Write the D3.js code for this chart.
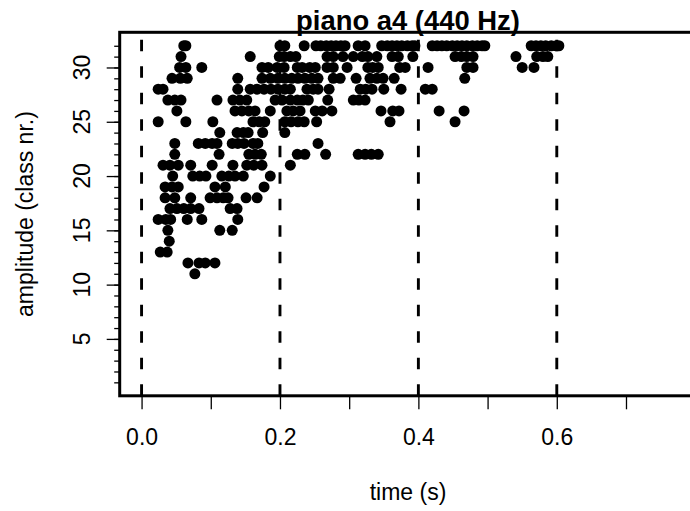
<!DOCTYPE html>
<html>
<head>
<meta charset="utf-8">
<script src="https://cdn.jsdelivr.net/npm/d3@7"></script>
<style>
body { margin: 0; background: #fff; }
svg { display: block; font-family: "Liberation Sans", Arial, sans-serif; }
</style>
</head>
<body>
<div id="chart"></div>
<script>
// amplitude classes (rows) and the times (s) at which each class shows up
const ampClass = [32, 31, 30, 29, 28, 27, 26, 25, 24, 23, 22, 21, 20, 19, 18, 17, 16, 15, 14, 13, 12, 11];
const timesByClass = [
  [0.061, 0.064, 0.200, 0.207, 0.235, 0.252, 0.259, 0.267, 0.274, 0.281, 0.288, 0.294, 0.313, 0.323, 0.347, 0.355, 0.362, 0.369, 0.376, 0.384, 0.391, 0.395, 0.420, 0.427, 0.434, 0.441, 0.449, 0.456, 0.463, 0.470, 0.478, 0.485, 0.492, 0.496, 0.563, 0.570, 0.577, 0.584, 0.592, 0.599, 0.603],
  [0.057, 0.157, 0.199, 0.206, 0.215, 0.223, 0.268, 0.277, 0.291, 0.306, 0.319, 0.327, 0.340, 0.362, 0.371, 0.392, 0.453, 0.462, 0.470, 0.479, 0.541, 0.571, 0.580, 0.587],
  [0.055, 0.064, 0.087, 0.174, 0.183, 0.196, 0.206, 0.225, 0.232, 0.243, 0.251, 0.268, 0.277, 0.297, 0.327, 0.334, 0.342, 0.373, 0.381, 0.414, 0.470, 0.479, 0.550, 0.567],
  [0.044, 0.056, 0.066, 0.139, 0.174, 0.186, 0.197, 0.207, 0.217, 0.226, 0.236, 0.246, 0.255, 0.277, 0.287, 0.310, 0.330, 0.340, 0.349, 0.365, 0.467],
  [0.024, 0.031, 0.139, 0.157, 0.167, 0.177, 0.187, 0.197, 0.207, 0.215, 0.239, 0.248, 0.255, 0.271, 0.316, 0.324, 0.333, 0.350, 0.375, 0.410, 0.420],
  [0.038, 0.048, 0.057, 0.109, 0.132, 0.142, 0.152, 0.193, 0.203, 0.215, 0.225, 0.233, 0.241, 0.269, 0.306, 0.314, 0.323],
  [0.051, 0.135, 0.145, 0.155, 0.164, 0.186, 0.210, 0.219, 0.229, 0.251, 0.261, 0.275, 0.346, 0.363, 0.372, 0.430, 0.466],
  [0.024, 0.064, 0.103, 0.161, 0.170, 0.178, 0.207, 0.216, 0.226, 0.235, 0.253, 0.359, 0.453],
  [0.113, 0.138, 0.147, 0.154, 0.175, 0.207],
  [0.048, 0.082, 0.092, 0.102, 0.109, 0.131, 0.139, 0.148, 0.161, 0.168, 0.255],
  [0.048, 0.112, 0.155, 0.164, 0.173, 0.225, 0.236, 0.266, 0.313, 0.323, 0.332, 0.342],
  [0.031, 0.041, 0.053, 0.071, 0.102, 0.132, 0.152, 0.162, 0.174, 0.215],
  [0.045, 0.074, 0.084, 0.093, 0.116, 0.126, 0.135, 0.147, 0.186],
  [0.034, 0.044, 0.053, 0.106, 0.121, 0.177],
  [0.034, 0.048, 0.071, 0.099, 0.109, 0.118, 0.125, 0.151, 0.167],
  [0.041, 0.051, 0.061, 0.071, 0.083, 0.128, 0.138],
  [0.024, 0.035, 0.042, 0.066, 0.087, 0.139],
  [0.038, 0.113, 0.131],
  [0.040],
  [0.027, 0.037],
  [0.067, 0.083, 0.092, 0.106],
  [0.077]
];

// vertical dashed markers
const markTimes = [0, 0.2, 0.4, 0.6];

// axis ticks
const xTicks = [0, 0.1, 0.2, 0.3, 0.4, 0.5, 0.6, 0.7];
const xLabelTicks = [0, 0.2, 0.4, 0.6];
const yMinorTicks = d3.range(1, 33);
const yMajorTicks = [5, 10, 15, 20, 25, 30];

const W = 690, H = 511;
const plot = { left: 119.7, right: 696.3, top: 32.3, bottom: 395.8 };

const svg = d3.select("#chart").append("svg")
    .attr("width", W)
    .attr("height", H);

const x = d3.scaleLinear()
    .domain([-0.0316, 0.8016])
    .range([plot.left, plot.right]);

const y = d3.scaleLinear()
    .domain([-0.24, 33.24])
    .range([plot.bottom, plot.top]);

// flatten rows into points
const points = [];
ampClass.forEach((a, i) => {
    timesByClass[i].forEach(t => points.push({ t: t, a: a }));
});

svg.append("g")
    .selectAll("circle")
    .data(points)
    .join("circle")
    .attr("cx", d => x(d.t))
    .attr("cy", d => y(d.a))
    .attr("r", 5.5)
    .attr("fill", "#000");

// dashed lines, dash pattern starts from the bottom
svg.append("g")
    .selectAll("line")
    .data(markTimes)
    .join("line")
    .attr("x1", d => x(d))
    .attr("x2", d => x(d))
    .attr("y1", plot.bottom)
    .attr("y2", plot.top)
    .attr("stroke", "#000")
    .attr("stroke-width", 2.9)
    .attr("stroke-dasharray", "11.5,15");

// x axis
const xAxis = svg.append("g")
    .attr("transform", `translate(0,${plot.bottom})`)
    .call(d3.axisBottom(x)
        .tickValues(xTicks)
        .tickSize(13.5)
        .tickFormat(d => xLabelTicks.includes(d) ? d3.format(".1f")(d) : ""));
xAxis.select(".domain").remove();
xAxis.selectAll(".tick line").attr("stroke-width", 1.3);
xAxis.selectAll(".tick text")
    .attr("y", 49.7)
    .attr("dy", null)
    .attr("font-size", 23)
    .attr("font-family", null)
    .attr("fill", "#000");

// y axis: minor and major ticks
const yMinor = svg.append("g")
    .attr("transform", `translate(${plot.left},0)`)
    .call(d3.axisLeft(y).tickValues(yMinorTicks).tickSize(5.5).tickFormat(""));
yMinor.select(".domain").remove();
yMinor.selectAll(".tick line").attr("stroke-width", 1.3);

const yMajor = svg.append("g")
    .attr("transform", `translate(${plot.left},0)`)
    .call(d3.axisLeft(y).tickValues(yMajorTicks).tickSize(13).tickFormat(""));
yMajor.select(".domain").remove();
yMajor.selectAll(".tick line").attr("stroke-width", 1.3);

// rotated y tick labels
svg.append("g")
    .selectAll("text")
    .data(yMajorTicks)
    .join("text")
    .attr("transform", d => `translate(89.5,${y(d)}) rotate(-90)`)
    .attr("text-anchor", "middle")
    .attr("font-size", 23)
    .text(d => d);

// box (right side falls outside the window)
svg.append("rect")
    .attr("x", plot.left)
    .attr("y", plot.top)
    .attr("width", plot.right - plot.left)
    .attr("height", plot.bottom - plot.top)
    .attr("fill", "none")
    .attr("stroke", "#000")
    .attr("stroke-width", 3);

// titles
const cx = (plot.left + plot.right) / 2;

svg.append("text")
    .attr("x", cx)
    .attr("y", 30)
    .attr("text-anchor", "middle")
    .attr("font-size", 27.4)
    .attr("font-weight", "bold")
    .text("piano a4 (440 Hz)");

svg.append("text")
    .attr("x", cx)
    .attr("y", 500)
    .attr("text-anchor", "middle")
    .attr("font-size", 23)
    .text("time (s)");

svg.append("text")
    .attr("transform", `translate(33,${(plot.top + plot.bottom) / 2}) rotate(-90)`)
    .attr("text-anchor", "middle")
    .attr("font-size", 23)
    .text("amplitude (class nr.)");
</script>
</body>
</html>
